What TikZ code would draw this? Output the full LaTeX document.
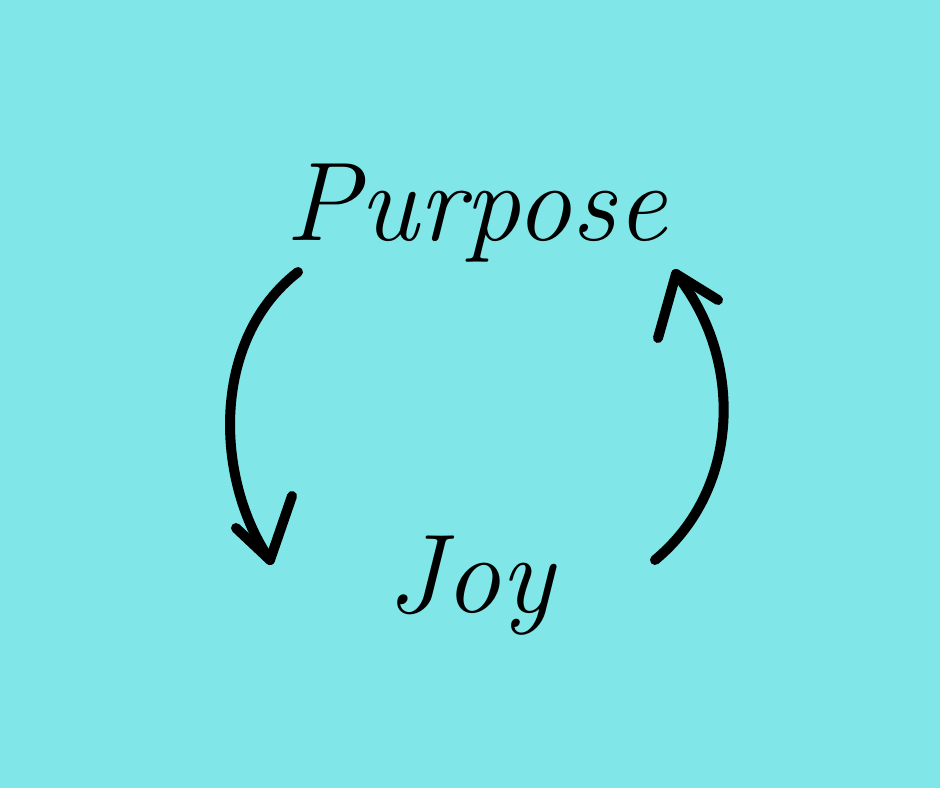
\documentclass[tikz,border=0pt]{standalone}
\usetikzlibrary{calc}
\definecolor{bg}{HTML}{80E6E8}
\tikzset{
  arrowline/.style={line width=10pt, line cap=round, line join=round, black},
  wordtext/.style={font=\fontsize{112}{128}\selectfont\itshape, text=black, inner sep=0pt, anchor=base}
}
\begin{document}
\begin{tikzpicture}[x=1pt,y=-1pt]
\fill[bg] (0,0) rectangle (940,788);
\useasboundingbox (0,0) rectangle (940,788);
\node[wordtext] (purpose) at (476,240) {Purpose};
\node[wordtext] (joy) at (470,612) {Joy};
% left arrow
\coordinate (l0) at (298,272);
\coordinate (l1) at (270,560);
\coordinate (lh1) at (236,528);
\coordinate (lh2) at (292,496);
\draw[arrowline] (l0) .. controls (210,340) and (215,480) .. (l1);
\draw[arrowline] (lh1) -- (l1) -- (lh2);
% right arrow
\coordinate (r0) at (655,560);
\coordinate (r1) at (676,274);
\coordinate (rh1) at (658,338);
\coordinate (rh2) at (718,300);
\draw[arrowline] (r0) .. controls (740,490) and (745,360) .. (r1);
\draw[arrowline] (rh1) -- (r1) -- (rh2);
\end{tikzpicture}
\end{document}
